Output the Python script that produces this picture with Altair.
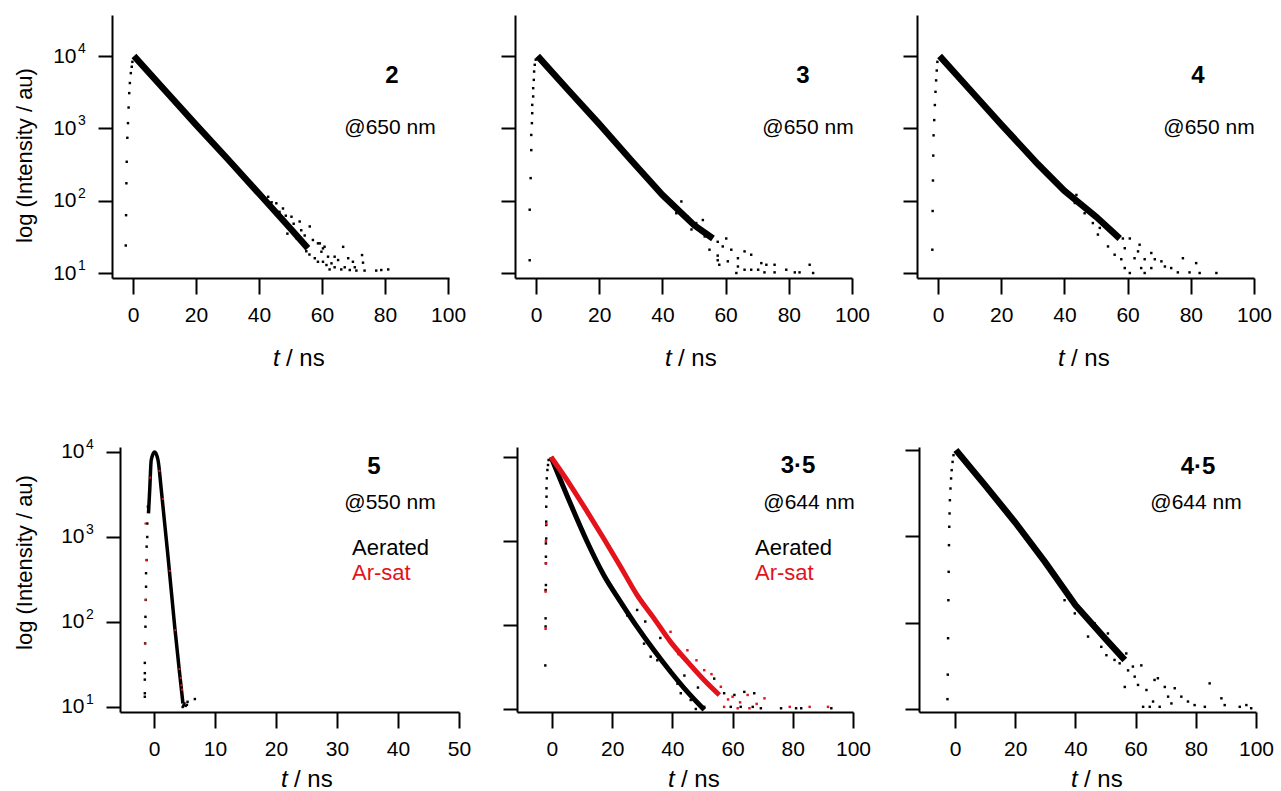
import altair as alt
import pandas as pd

FONT = "Liberation Sans"
BLACK = "#000000"
RED = "#e3121b"

Y_TICKS = [10, 100, 1000, 10000]
Y_EXPONENTS = ["1", "2", "3", "4"]
X_TICKS_100 = [0, 20, 40, 60, 80, 100]
X_TICKS_50 = [0, 10, 20, 30, 40, 50]

# ---------------- panel "2" ----------------
P1_RISE_T = [-2.3, -2.2, -2.1, -2.0, -1.8, -1.6, -1.4, -1.2, -1.0, -0.7, -0.4, -0.2]
P1_RISE_I = [24, 63, 174, 345, 740, 1180, 1940, 3070, 4230, 5800, 7100, 8300]
P1_BAND_T = [0.3, 10, 20, 30, 40, 50, 55.5]
P1_BAND_I = [10000, 3400, 1120, 378, 125, 41, 22]
P1_TAIL_T = [42.9, 44.0, 45.5, 46.5, 47.6, 48.5, 50.3, 51, 52.9, 53.4,
             54.5, 56.1, 57.1, 57.7, 58.7, 58.7, 59.3, 59.8, 60.3, 60.3,
             60.8, 61.4, 61.9, 62.4, 63, 64, 64, 65.1, 66.1, 66.7,
             67.2, 68.3, 68.8, 69.8, 70.4, 70.9, 72.7, 73, 73.5, 77.2,
             78.8, 81, 49, 52, 55, 56]
P1_TAIL_I = [113, 95, 92, 70, 78, 62, 60, 48, 51.5, 39,
             33, 44, 28.6, 16, 25.7, 14.3, 25.7, 19.7, 21.9, 14.3,
             23.1, 12.9, 16.8, 11.2, 13.6, 12, 16.8, 15.1, 11.2, 23,
             12, 16, 11, 14.3, 12, 10.8, 17.7, 13.9, 10.8, 10.8,
             11, 11.2, 35, 30, 20, 18]

# ---------------- panel "3" ----------------
P2_RISE_T = [-2.0, -2.0, -1.7, -1.5, -1.5, -1.3, -1.2, -1.2, -0.9, -0.9, -0.7, -0.6, -0.4, -0.1]
P2_RISE_I = [15, 75, 205, 500, 810, 1180, 1620, 2110, 2760, 3590, 4680, 6100, 7560, 8900]
P2_BAND_T = [0.5, 10, 20, 30, 40, 50, 56]
P2_BAND_I = [10000, 3450, 1150, 367, 120, 46, 30]
P2_TAIL_T = [46, 52.8, 49.2, 54.9, 57.5, 60.2, 57.5, 58, 61.8, 63.9,
             66, 68.1, 63.9, 66, 68.1, 71.3, 72.9, 75.5, 70.3, 72.3,
             75.5, 79.2, 81.9, 83.4, 86.6, 87.7, 63.4, 57.5, 60.7, 59.1,
             53.4, 50.7, 48, 44.9, 42.8, 44.4]
P2_TAIL_I = [97.5, 54, 40, 21, 27, 30, 17.4, 13, 21, 16,
             19.9, 17.9, 12.3, 11.1, 11.1, 13.7, 13, 13, 11.1, 10.2,
             10.2, 11.1, 10.2, 10.2, 13, 10, 10, 15, 14.5, 23.3,
             32, 49, 60, 75, 97.5, 67]

# ---------------- panel "4" ----------------
P3_RISE_T = [-1.8, -1.7, -1.6, -1.5, -1.4, -1.2, -1.0, -0.8, -0.6, -0.4, -0.2]
P3_RISE_I = [21, 72, 190, 420, 800, 1300, 2100, 3200, 4600, 6300, 8300]
P3_BAND_T = [0.5, 10, 20, 31.6, 40, 50, 57.5]
P3_BAND_I = [10000, 3450, 1130, 320, 137, 60, 30]
P3_TAIL_T = [43.8, 43.3, 46.4, 51.2, 50.6, 55.4, 58.5, 60.7, 55.9, 59.1,
             63.8, 63.3, 62.2, 65.4, 67.5, 68.6, 59.1, 64.3, 67.5, 70.7,
             71.8, 73.8, 75.9, 77.5, 79.6, 81.7, 82.8, 88.1, 60.7, 65.4,
             58, 53.8, 49]
P3_TAIL_I = [120, 93, 67, 42, 34, 36, 30, 30, 17.9, 22,
             24.6, 19.9, 16, 15.5, 18.9, 15.5, 11.7, 11.7, 11.7, 14.5,
             12.3, 11.7, 10.2, 16, 10.2, 13.7, 10, 10, 10, 10,
             15.5, 23.3, 49]

# ---------------- panel "5" ----------------
P5_RISE_T = [-1.0, -1.1, -1.1, -1.2, -1.2, -1.3, -1.3, -1.35, -1.4, -1.4, -1.45, -1.5, -1.5, -1.5, -1.5, -1.5]
P5_RISE_I = [2270, 1440, 1000, 770, 535, 375, 260, 182, 115, 88, 56, 33, 25, 21, 14.5, 13.2]
P5_BAND_T = [-0.9, -0.7, -0.45, 0.1, 0.66, 1.2, 2.3, 3.4, 4.2, 4.75]
P5_BAND_I = [1900, 3570, 8050, 10000, 8050, 3570, 590, 88, 25, 11]
P5_TAIL_T = [4.7, 4.8, 4.9, 5.0, 5.2, 5.4, 5.5, 6.7]
P5_TAIL_I = [10, 10.3, 10.6, 11, 10.3, 10.6, 11.5, 12.4]
P5_RED_T = [-1.4, -1.2, -1.35, -1.45, 1.5, 2.6, 3.5, 4.2, 4.4, 4.6, 4.5, -0.6, 0.9]
P5_RED_I = [1440, 535, 182, 56, 2800, 400, 80, 28, 22, 16, 18, 5000, 6000]

# ---------------- panel "3·5" ----------------
P6_RISE_T = [-1.1, -1.3, -1.5, -1.7, -1.8, -1.8, -1.9, -1.9, -1.9, -1.9, -2.0, -2.0, -2.0, -2.0, -2.1, -2.1, -2.1, -2.2]
P6_RISE_I = [9200, 8030, 7000, 5570, 4240, 3370, 2560, 1700, 1550, 1070, 935, 650, 543, 299, 261, 120, 96, 33]
P6_RED_RISE_T = [-1.9, -2.0, -2.0, -2.1, -2.1]
P6_RED_RISE_I = [1600, 1000, 540, 250, 90]
P6_BLACK_T = [-0.3, 6.1, 11.7, 17.2, 22.8, 28.3, 33.9, 39.4, 45, 50.6]
P6_BLACK_I = [10000, 2810, 980, 394, 189, 95, 50, 27.8, 16, 9.8]
P6_RED_T = [-0.3, 6.1, 11.7, 17.2, 22.8, 28.3, 33.9, 39.4, 45, 50.6, 55.6]
P6_RED_I = [10000, 4640, 2240, 1070, 494, 227, 120, 63, 36.6, 22, 14.7]
P6_BTAIL_T = [28.3, 32.8, 30.6, 35, 39.4, 42.8, 41.7, 46.1, 47.8, 50.6,
              53.9, 57.2, 60.6, 63.9, 67.2, 59.4, 62.7, 66.7, 69.4, 76.1,
              81.1, 82.8, 92.8, 36, 44, 48.5, 25, 31]
P6_BTAIL_I = [151, 42, 60, 38, 29, 15.4, 20, 12.8, 10, 10.6,
              23, 15.4, 14.7, 16, 15.4, 10.6, 10.6, 10.6, 10.2, 10.2,
              10.2, 10.2, 10.2, 70, 25, 18, 130, 110]
P6_RTAIL_T = [39.4, 45, 50.6, 56.1, 60, 65, 70.6, 57.2, 61.7, 65.6,
              79, 85.6, 91.7, 42, 48, 53, 58.5, 62.5, 36, 30, 68]
P6_RTAIL_I = [83, 50, 29, 18.4, 14, 14.7, 13.4, 10.6, 10.2, 10.2,
              10.6, 10.6, 10.6, 45, 38, 26, 13, 12, 95, 190, 11.5]

# ---------------- panel "4·5" ----------------
P7_RISE_T = [-2.5, -2.4, -2.3, -2.2, -2.1, -2.0, -1.9, -1.8, -1.7, -1.5, -1.3, -1.1, -0.8, -0.5]
P7_RISE_I = [13, 25, 66, 182, 388, 790, 1290, 1840, 2620, 3580, 4680, 5840, 7280, 8710]
P7_BAND_T = [0.3, 10, 20, 30, 40, 50, 56.4]
P7_BAND_I = [10000, 3900, 1450, 500, 160, 65, 37]
P7_TAIL_T = [36.4, 39.8, 46.4, 50.3, 51.9, 54.7, 56.9, 61.9, 57.5, 59.7,
             60.8, 63.6, 66.3, 67.4, 69.7, 73, 70.8, 65.8, 68, 71.9,
             75.2, 77.4, 79.6, 83, 84.6, 88.5, 89.6, 94.6, 96.8, 98.4,
             62.5, 64.7, 56.4, 59.1, 53, 48.6, 44.2, 50.8]
P7_TAIL_I = [182, 128, 98, 42, 52.5, 33.8, 44, 32, 28, 23.7,
             19, 16.6, 21.7, 22.7, 18, 17.4, 13.9, 12.2, 10.6, 11.6,
             13.9, 12.2, 11.1, 10.6, 19.8, 13.3, 11.1, 10.6, 11.1, 10.2,
             10.6, 10.6, 18, 31, 37, 52.5, 69, 75]


def df(ts, vs):
    assert len(ts) == len(vs)
    return pd.DataFrame({"t": ts, "I": vs})


def panel(xdom, ydom, xticks, w, h, layers, notes, xt, ylabels, ytitle=None):
    def X():
        return alt.X("t:Q", scale=alt.Scale(domain=xdom, nice=False, zero=False),
                     axis=alt.Axis(values=xticks, title=None, format="d", grid=False,
                                   domainColor=BLACK, domainWidth=2, tickColor=BLACK,
                                   tickWidth=2, tickSize=16, labelFont=FONT, labelFontSize=21,
                                   labelColor=BLACK, labelPadding=10, labelFlush=False,
                                   labelOverlap=False, labelBound=False))

    def Y():
        ax = dict(values=Y_TICKS, grid=False, domainColor=BLACK, domainWidth=2,
                  tickColor=BLACK, tickWidth=2, tickSize=14, labels=ylabels,
                  labelExpr="'10'", labelFont=FONT, labelFontSize=21, labelColor=BLACK,
                  labelPadding=22, labelFlush=False, labelOverlap=False)
        if ytitle is not None:
            ax.update(title="log (Intensity / au)", titleFont=FONT, titleFontSize=22,
                      titleFontWeight="normal", titleColor=BLACK, titleX=ytitle[0],
                      titleY=ytitle[1], titleAngle=-90, titleAlign="center",
                      titleBaseline="middle")
        else:
            ax.update(title=None)
        return alt.Y("I:Q", scale=alt.Scale(type="log", domain=ydom, nice=False),
                     axis=alt.Axis(**ax))

    charts = []
    for data, kind, color, size in layers:
        base = alt.Chart(data)
        if kind == "line":
            m = base.mark_line(color=color, strokeWidth=size, clip=True)
        elif kind == "curve":
            m = base.mark_line(color=color, strokeWidth=size, clip=True, interpolate="monotone")
        else:
            m = base.mark_square(color=color, size=size, opacity=1, clip=True)
        charts.append(m.encode(x=X(), y=Y()))
    if ylabels:
        exp = pd.DataFrame({"I": Y_TICKS, "e": Y_EXPONENTS})
        charts.append(alt.Chart(exp).mark_text(font=FONT, fontSize=14, align="left",
                                               baseline="middle", dy=-7, color=BLACK)
                      .encode(x=alt.value(-34), y=Y(), text="e:N"))
    for txt, x, y, size, weight, color, align in notes:
        charts.append(alt.Chart(pd.DataFrame({"label": [txt]}))
                      .mark_text(font=FONT, fontSize=size, fontWeight=weight, color=color,
                                 align=align, baseline="middle")
                      .encode(x=alt.value(x), y=alt.value(y), text="label:N"))
    # x-axis title "t / ns" with italic t
    charts.append(alt.Chart(pd.DataFrame({"label": ["t"]}))
                  .mark_text(font=FONT, fontSize=24, fontStyle="italic", color=BLACK,
                             align="left", baseline="alphabetic")
                  .encode(x=alt.value(xt[0]), y=alt.value(xt[1]), text="label:N"))
    charts.append(alt.Chart(pd.DataFrame({"label": ["/ ns"]}))
                  .mark_text(font=FONT, fontSize=24, color=BLACK,
                             align="left", baseline="alphabetic")
                  .encode(x=alt.value(xt[0] + 13), y=alt.value(xt[1]), text="label:N"))
    return alt.layer(*charts).properties(width=w, height=h)


ROW1_Y = [8.53, 36900]
BAND_W = 6.5
DOT = 6

p1 = panel([-6.67, 100.3], ROW1_Y, X_TICKS_100, 337, 263,
           [(df(P1_BAND_T, P1_BAND_I), "line", BLACK, BAND_W),
            (df(P1_RISE_T, P1_RISE_I), "pt", BLACK, DOT),
            (df(P1_TAIL_T, P1_TAIL_I), "pt", BLACK, DOT)],
           [("2", 280, 61, 24, "bold", BLACK, "center"),
            ("@650 nm", 278, 113, 21, "normal", BLACK, "center")],
           (161, 351), True, (-88, 140))

p2 = panel([-6.65, 100], ROW1_Y, X_TICKS_100, 337, 263,
           [(df(P2_BAND_T, P2_BAND_I), "line", BLACK, BAND_W),
            (df(P2_RISE_T, P2_RISE_I), "pt", BLACK, DOT),
            (df(P2_TAIL_T, P2_TAIL_I), "pt", BLACK, DOT)],
           [("3", 288, 61, 24, "bold", BLACK, "center"),
            ("@650 nm", 293, 113, 21, "normal", BLACK, "center")],
           (150, 351), False)

p3 = panel([-6.65, 100], ROW1_Y, X_TICKS_100, 337, 263,
           [(df(P3_BAND_T, P3_BAND_I), "line", BLACK, BAND_W),
            (df(P3_RISE_T, P3_RISE_I), "pt", BLACK, DOT),
            (df(P3_TAIL_T, P3_TAIL_I), "pt", BLACK, DOT)],
           [("4", 281, 61, 24, "bold", BLACK, "center"),
            ("@650 nm", 292, 113, 21, "normal", BLACK, "center")],
           (141, 351), False)

p5 = panel([-5.57, 50], [8.73, 11450], X_TICKS_50, 339, 265,
           [(df(P5_BAND_T, P5_BAND_I), "curve", BLACK, 3.5),
            (df(P5_RISE_T, P5_RISE_I), "pt", BLACK, DOT),
            (df(P5_TAIL_T, P5_TAIL_I), "pt", BLACK, DOT),
            (df(P5_RED_T, P5_RED_I), "pt", RED, 4)],
           [("5", 254, 20, 24, "bold", BLACK, "center"),
            ("@550 nm", 270, 56, 21, "normal", BLACK, "center"),
            ("Aerated", 232, 101, 22, "normal", BLACK, "left"),
            ("Ar-sat", 232, 126, 22, "normal", RED, "left")],
           (161, 340), True, (-96, 115))

p6 = panel([-11.6, 100], [9.21, 13150], X_TICKS_100, 336, 265,
           [(df(P6_BLACK_T, P6_BLACK_I), "curve", BLACK, 5),
            (df(P6_RISE_T, P6_RISE_I), "pt", BLACK, DOT),
            (df(P6_BTAIL_T, P6_BTAIL_I), "pt", BLACK, DOT),
            (df(P6_RED_T, P6_RED_I), "curve", RED, 5),
            (df(P6_RED_RISE_T, P6_RED_RISE_I), "pt", RED, DOT),
            (df(P6_RTAIL_T, P6_RTAIL_I), "pt", RED, DOT)],
           [("3·5", 281, 19, 24, "bold", BLACK, "center"),
            ("@644 nm", 292, 56, 21, "normal", BLACK, "center"),
            ("Aerated", 238, 101, 22, "normal", BLACK, "left"),
            ("Ar-sat", 238, 126, 22, "normal", RED, "left")],
           (151, 340), False)

p7 = panel([-11.96, 100], [9.23, 10830], X_TICKS_100, 337, 265,
           [(df(P7_BAND_T, P7_BAND_I), "line", BLACK, BAND_W),
            (df(P7_RISE_T, P7_RISE_I), "pt", BLACK, DOT),
            (df(P7_TAIL_T, P7_TAIL_I), "pt", BLACK, DOT)],
           [("4·5", 279, 20, 24, "bold", BLACK, "center"),
            ("@644 nm", 277, 56, 21, "normal", BLACK, "center")],
           (152, 340), False)

# an empty, invisible first cell that moves the bottom row 8 px to the right
spacer = (alt.Chart(pd.DataFrame({"a": [0]}))
          .mark_point(opacity=0)
          .encode(x=alt.value(0), y=alt.value(0))
          .properties(width=1, height=265))

row1 = alt.hconcat(p1, alt.hconcat(p2, p3, spacing=65, bounds="flush"), spacing=66, bounds="flush")
row2 = alt.hconcat(
    spacer,
    alt.hconcat(p5, alt.hconcat(p6, p7, spacing=66, bounds="flush"), spacing=58, bounds="flush"),
    spacing=7, bounds="flush")

chart = (alt.concat(row1, row2, columns=1, spacing=66, align="none")
         .properties(padding={"left": 12, "top": 15, "right": 0, "bottom": 0},
                     background="white")
         .configure_view(stroke=None))

chart.save("out.html", embed_options={"renderer": "svg", "actions": False})
